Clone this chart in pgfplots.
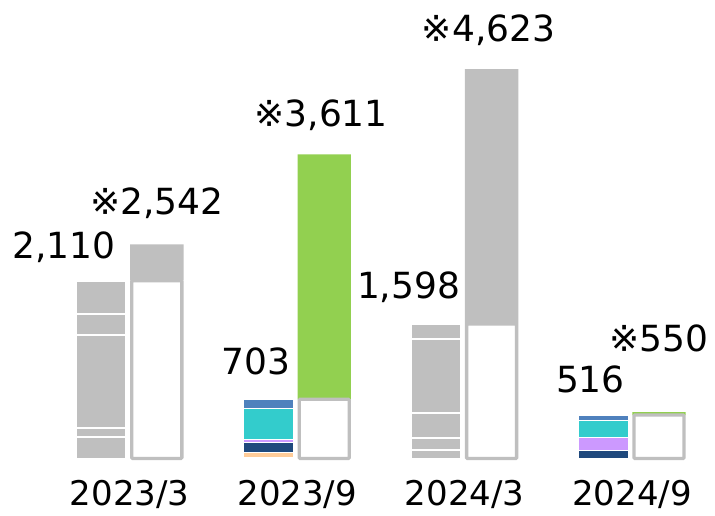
\documentclass[border=0pt]{standalone}
\usepackage{fontspec}
\setmainfont{DejaVu Sans}
\usepackage{pgfplots}
\pgfplotsset{compat=1.18}
\definecolor{cgray}{HTML}{BFBFBF}
\definecolor{cgreen}{HTML}{92D050}
\definecolor{cblue}{HTML}{4F81BD}
\definecolor{ccyan}{HTML}{33CCCC}
\definecolor{clav}{HTML}{CC99FF}
\definecolor{cdark}{HTML}{1F497D}
\definecolor{cpeach}{HTML}{FFCC99}
\definecolor{cpink}{HTML}{FF99CC}
\pgfplotsset{
  base/.style={at={(0,0)}, anchor=south west, scale only axis,
    width=715pt, height=516pt,
    xmin=-0.7694, xmax=3.5018, ymin=-682.5, ymax=5442.4,
    axis lines=none, xtick=\empty, ytick=\empty, clip=false, ybar stacked},
  gseg/.style={fill=cgray, draw=white, line width=1.8pt},
  cseg/.style={fill=#1, draw=white, line width=0.6pt},
}
\tikzset{vlab/.style={anchor=base, inner sep=0pt, font=\fontsize{36}{40}\selectfont},
         xlab/.style={anchor=base, inner sep=0pt, xshift=1pt, font=\fontsize{34}{38}\selectfont}}
\begin{document}
\begin{tikzpicture}
\useasboundingbox (0,0) rectangle (715pt,516pt);
% left (stacked) bars
\begin{axis}[base, bar width=50pt, bar shift=-28pt]
% 2023/3
\addplot[gseg] coordinates {(0,255) (1,0) (2,0) (3,0)};
\addplot[gseg] coordinates {(0,105) (1,0) (2,0) (3,0)};
\addplot[gseg] coordinates {(0,1110) (1,0) (2,0) (3,0)};
\addplot[gseg] coordinates {(0,245) (1,0) (2,0) (3,0)};
\addplot[gseg] coordinates {(0,395) (1,0) (2,0) (3,0)};
% 2023/9
\addplot[cseg=cpink] coordinates {(0,0) (1,12) (2,0) (3,0)};
\addplot[cseg=cpeach] coordinates {(0,0) (1,66) (2,0) (3,0)};
\addplot[cseg=cdark] coordinates {(0,0) (1,117) (2,0) (3,0)};
\addplot[cseg=clav] coordinates {(0,0) (1,28) (2,0) (3,0)};
\addplot[cseg=ccyan] coordinates {(0,0) (1,375) (2,0) (3,0)};
\addplot[cseg=cblue] coordinates {(0,0) (1,105) (2,0) (3,0)};
% 2024/3
\addplot[gseg] coordinates {(0,0) (1,0) (2,105) (3,0)};
\addplot[gseg] coordinates {(0,0) (1,0) (2,140) (3,0)};
\addplot[gseg] coordinates {(0,0) (1,0) (2,297) (3,0)};
\addplot[gseg] coordinates {(0,0) (1,0) (2,880) (3,0)};
\addplot[gseg] coordinates {(0,0) (1,0) (2,176) (3,0)};
% 2024/9
\addplot[cseg=cdark] coordinates {(0,0) (1,0) (2,0) (3,98)};
\addplot[cseg=clav] coordinates {(0,0) (1,0) (2,0) (3,158)};
\addplot[cseg=ccyan] coordinates {(0,0) (1,0) (2,0) (3,199)};
\addplot[cseg=cblue] coordinates {(0,0) (1,0) (2,0) (3,61)};
% labels
\node[vlab, xshift=-64.8pt, yshift=22pt] at (axis cs:0,2110) {2,110};
\node[vlab, xshift=-40pt, yshift=25pt] at (axis cs:1,703) {703};
\node[vlab, xshift=-55pt, yshift=25pt] at (axis cs:2,1598) {1,598};
\node[vlab, xshift=-40.6pt, yshift=23pt] at (axis cs:3,516) {516};
\node[xlab] at (axis cs:0,-560) {2023/3};
\node[xlab] at (axis cs:1,-560) {2023/9};
\node[xlab] at (axis cs:2,-560) {2024/3};
\node[xlab] at (axis cs:3,-560) {2024/9};
\end{axis}
% right bars
\begin{axis}[base, bar width=50pt, bar shift=28pt]
\addplot[fill=white, draw=cgray, line width=3.4pt, rounded corners=1pt] coordinates {(0,2110) (1,703) (2,1598) (3,516)};
\addplot[fill=cgray, draw=none, bar width=53.4pt] coordinates {(0,432) (1,0) (2,3025) (3,0)};
\addplot[fill=cgreen, draw=none, bar width=53.4pt] coordinates {(0,0) (1,2908) (2,0) (3,34)};
\node[vlab, xshift=28pt, yshift=30pt] at (axis cs:0,2542) {※2,542};
\node[vlab, xshift=25pt, yshift=27.6pt] at (axis cs:1,3611) {※3,611};
\node[vlab, xshift=25pt, yshift=27.3pt] at (axis cs:2,4623) {※4,623};
\node[vlab, xshift=28pt, yshift=61pt] at (axis cs:3,550) {※550};
\end{axis}
\end{tikzpicture}
\end{document}
